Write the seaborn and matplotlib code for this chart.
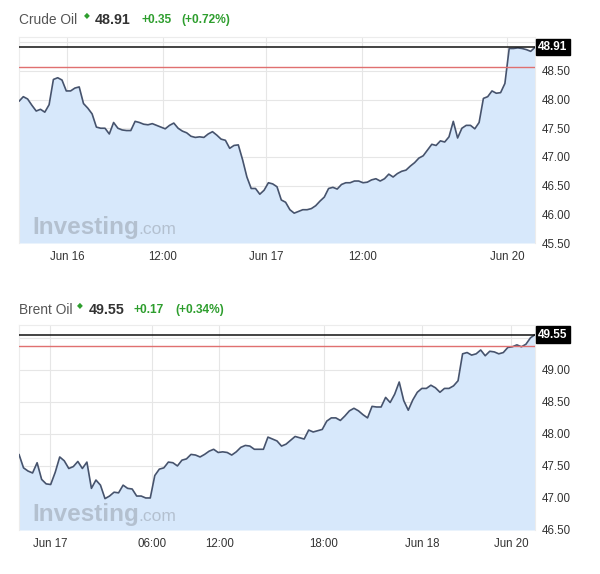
import numpy as np
import pandas as pd
import matplotlib
matplotlib.use("Agg")
import matplotlib.pyplot as plt
import matplotlib.transforms as mtransforms
import seaborn as sns

# ---------------- data ----------------
crude_values = [
    47.97, 48.05, 48.01, 47.90, 47.80, 47.83, 47.78, 47.91, 48.35, 48.38,
    48.34, 48.15, 48.15, 48.20, 48.22, 47.93, 47.85, 47.75, 47.52, 47.50,
    47.50, 47.40, 47.60, 47.50, 47.47, 47.46, 47.46, 47.62, 47.60, 47.57,
    47.56, 47.58, 47.55, 47.52, 47.49, 47.55, 47.59, 47.50, 47.45, 47.42,
    47.36, 47.34, 47.35, 47.34, 47.40, 47.44, 47.38, 47.31, 47.29, 47.15,
    47.20, 47.21, 46.95, 46.65, 46.45, 46.45, 46.35, 46.42, 46.55, 46.53,
    46.48, 46.25, 46.21, 46.08, 46.02, 46.05, 46.08, 46.08, 46.10, 46.15,
    46.23, 46.30, 46.45, 46.47, 46.44, 46.52, 46.55, 46.55, 46.58, 46.58,
    46.55, 46.56, 46.60, 46.62, 46.58, 46.62, 46.70, 46.65, 46.71, 46.75,
    46.77, 46.84, 46.90, 46.98, 47.02, 47.12, 47.22, 47.20, 47.28, 47.26,
    47.35, 47.62, 47.33, 47.50, 47.55, 47.55, 47.49, 47.60, 48.02, 48.05,
    48.15, 48.11, 48.12, 48.28, 48.89, 48.89, 48.90, 48.89, 48.87, 48.84,
    48.91,
]
crude_tick_pos = [11.2, 33.5, 57.4, 79.8, 113.5]
crude_tick_labels = ["Jun 16", "12:00", "Jun 17", "12:00", "Jun 20"]
crude_yticks = [45.5, 46.0, 46.5, 47.0, 47.5, 48.0, 48.5, 49.0]
crude_last = 48.91
crude_prev_close = 48.56
crude_change = "+0.35"
crude_pct = "(+0.72%)"

brent_values = [
    47.68, 47.47, 47.42, 47.39, 47.55, 47.29, 47.22, 47.21, 47.40, 47.64,
    47.58, 47.46, 47.49, 47.57, 47.46, 47.56, 47.15, 47.28, 47.20, 46.99,
    47.03, 47.09, 47.08, 47.20, 47.15, 47.14, 47.03, 47.03, 47.00, 47.00,
    47.35, 47.45, 47.47, 47.56, 47.55, 47.50, 47.59, 47.61, 47.68, 47.67,
    47.64, 47.68, 47.73, 47.76, 47.71, 47.72, 47.71, 47.67, 47.72, 47.79,
    47.82, 47.81, 47.76, 47.76, 47.76, 47.95, 47.92, 47.89, 47.81, 47.84,
    47.90, 47.96, 47.94, 47.92, 48.06, 48.03, 48.05, 48.07, 48.20, 48.25,
    48.25, 48.21, 48.28, 48.36, 48.40, 48.36, 48.30, 48.25, 48.43, 48.42,
    48.42, 48.57, 48.49, 48.62, 48.81, 48.52, 48.37, 48.53, 48.65, 48.71,
    48.71, 48.76, 48.72, 48.65, 48.71, 48.71, 48.75, 48.83, 49.25, 49.27,
    49.23, 49.25, 49.31, 49.22, 49.29, 49.28, 49.25, 49.27, 49.35, 49.36,
    49.39, 49.36, 49.40, 49.50, 49.55,
]
brent_tick_pos = [6.9, 29.3, 44.25, 67.3, 89.1, 108.75]
brent_tick_labels = ["Jun 17", "06:00", "12:00", "18:00", "Jun 18", "Jun 20"]
brent_yticks = [46.5, 47.0, 47.5, 48.0, 48.5, 49.0, 49.5]
brent_last = 49.55
brent_prev_close = 49.38
brent_change = "+0.17"
brent_pct = "(+0.34%)"

# ---------------- style ----------------
sns.set_style("white")
plt.rcParams["font.family"] = ["Liberation Sans", "DejaVu Sans"]

W, H = 600, 574
fig = plt.figure(figsize=(W / 100, H / 100), dpi=100)

LINE = "#46536d"
FILL = "#d7e8fb"
GRID = "#e6e6e6"
GREEN = "#2e9e2e"
TXT = "#333333"


def px_axes(x0, y0, x1, y1):
    return fig.add_axes([x0 / W, 1 - y1 / H, (x1 - x0) / W, (y1 - y0) / H])


def draw_panel(ax, values, ylim, yticks, xt_pos, xt_lab, last, prev, hidden_tick):
    n = len(values)
    df = pd.DataFrame({"t": np.arange(n), "price": values})
    ax.fill_between(df["t"], df["price"], ylim[0], color=FILL, linewidth=0, zorder=1)
    sns.lineplot(data=df, x="t", y="price", ax=ax, color=LINE, linewidth=1.2, zorder=3)
    ax.set_xlim(0, n - 1)
    ax.set_ylim(*ylim)
    ax.set_xlabel("")
    ax.set_ylabel("")
    for y in yticks:
        ax.axhline(y, color=GRID, linewidth=0.8, zorder=0.5)
    for x in xt_pos:
        ax.axvline(x, color=GRID, linewidth=0.8, zorder=0.5)
    ax.axhline(prev, color="#e07070", linewidth=1.0, zorder=4)
    ax.axhline(last, color="#111111", linewidth=1.1, zorder=4)
    ax.yaxis.tick_right()
    ax.set_yticks(yticks)
    ax.set_yticklabels(["" if abs(y - hidden_tick) < 1e-6 else f"{y:.2f}" for y in yticks])
    ax.set_xticks(xt_pos)
    ax.set_xticklabels(xt_lab)
    ax.tick_params(axis="y", length=0, pad=5, labelsize=8.3, labelcolor=TXT)
    ax.tick_params(axis="x", length=0, pad=6, labelsize=8.3, labelcolor=TXT)
    for s in ax.spines.values():
        s.set_color("#ececec")
        s.set_linewidth(0.8)
    ax.spines["bottom"].set_visible(False)
    trans = mtransforms.blended_transform_factory(ax.transAxes, ax.transData)
    ax.text(1.006, last, f"{last:.2f}", transform=trans, ha="left", va="center",
            color="white", fontsize=8.5, fontweight="bold", zorder=6,
            bbox=dict(boxstyle="square,pad=0.18", fc="black", ec="black"))
    # watermark
    ax.text(0.025, 0.045, "Investing", transform=ax.transAxes, fontsize=17.5,
            fontweight="bold", color="#b0bccb", alpha=0.9, ha="left", va="baseline", zorder=2)
    ax.text(0.231, 0.045, ".com", transform=ax.transAxes, fontsize=12.5,
            color="#b0bccb", alpha=0.9, ha="left", va="baseline", zorder=2)


def header(y, name, last, chg, pct, xs):
    fy = 1 - y / H
    fig.text(19 / W, fy, name, fontsize=9.9, color="#555555", ha="left", va="center")
    fig.text(xs[0] / W, fy + 4 / H, "◆", fontsize=5.5, color=GREEN, ha="center", va="center",
             family=["DejaVu Sans"])
    fig.text(xs[1] / W, fy, f"{last:.2f}", fontsize=10.3, fontweight="bold", color=TXT,
             ha="left", va="center")
    fig.text(xs[2] / W, fy, chg, fontsize=8.6, fontweight="bold", color=GREEN,
             ha="left", va="center")
    fig.text(xs[3] / W, fy, pct, fontsize=8.6, fontweight="bold", color=GREEN,
             ha="left", va="center")


ax1 = px_axes(19, 37, 535, 243)
draw_panel(ax1, crude_values, (45.5, 49.09), crude_yticks, crude_tick_pos,
           crude_tick_labels, crude_last, crude_prev_close, 49.0)
header(20, "Crude Oil", crude_last, crude_change, crude_pct, [87, 95, 141, 181])

ax2 = px_axes(19, 325, 535, 530)
draw_panel(ax2, brent_values, (46.5, 49.70), brent_yticks, brent_tick_pos,
           brent_tick_labels, brent_last, brent_prev_close, 49.5)
header(310, "Brent Oil", brent_last, brent_change, brent_pct, [80, 89, 134, 175])

fig.savefig("out.png", dpi=100, facecolor="white")
